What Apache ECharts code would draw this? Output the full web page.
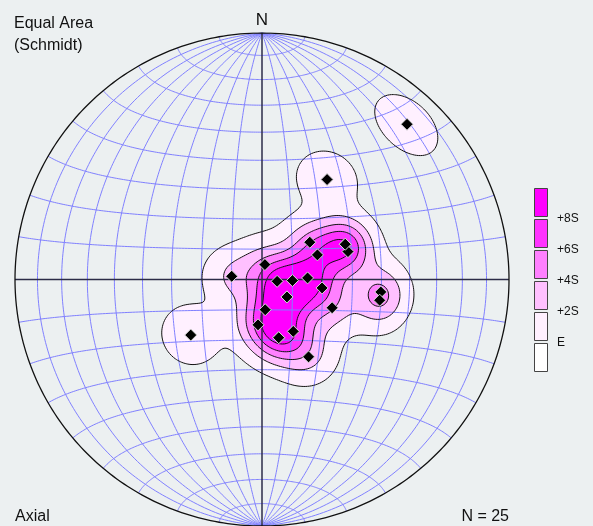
<!DOCTYPE html>
<html>
<head>
<meta charset="utf-8">
<script src="https://cdn.jsdelivr.net/npm/echarts@6/dist/echarts.min.js"></script>
<style>
html, body { margin: 0; padding: 0; background: #ecf0f1; }
#stereonet { width: 593px; height: 526px; }
</style>
</head>
<body>
<div id="stereonet"></div>
<script>
// axial data, lower hemisphere, degrees (last three hide under other diamonds)
const trend  = [43, 33, 52, 67, 72, 66, 11, 276, 97, 92, 88, 125, 98, 112, 96, 100, 174, 185, 164, 149, 149, 232, 67, 125, 164];
const plunge = [15, 50, 70, 60, 60, 70, 85, 80, 85, 80, 75, 80, 70, 65, 50, 50, 80, 75, 70, 70, 60, 60, 60, 80, 70];

const levelNames  = ['E', '+2S', '+4S', '+6S', '+8S'];
const levelSigma  = [0, 2, 4, 6, 8];
const levelColors = ['#fff0ff', '#ffc0ff', '#ff80ff', '#ff33ff', '#ff00ff'];

const rad = Math.PI / 180;

// Schmidt (equal area) projection of a unit vector [east, north, down]
function project(v) {
  const s = 1 / Math.sqrt(1 + v[2]);
  return [v[0] * s, v[1] * s];
}
function lineVec(tr, pl) {
  return [Math.cos(pl * rad) * Math.sin(tr * rad), Math.cos(pl * rad) * Math.cos(tr * rad), Math.sin(pl * rad)];
}

// ---- net: great circles through N/S and small circles about N-S axis
const netLines = [];
for (let dip = 10; dip < 180; dip += 10) {
  if (dip === 90) continue;
  const pts = [];
  for (let t = 0; t <= 180; t += 1) {
    pts.push(project([Math.sin(t * rad) * Math.cos(dip * rad), Math.cos(t * rad), Math.sin(t * rad) * Math.sin(dip * rad)]));
  }
  netLines.push({ coords: pts });
}
for (let lat = -80; lat <= 80; lat += 10) {
  if (lat === 0) continue;
  const pts = [];
  for (let p = 0; p <= 180; p += 1) {
    pts.push(project([Math.cos(lat * rad) * Math.cos(p * rad), Math.sin(lat * rad), Math.cos(lat * rad) * Math.sin(p * rad)]));
  }
  netLines.push({ coords: pts });
}
const primitive = [];
for (let a = 0; a <= 360; a += 1) primitive.push([Math.cos(a * rad), Math.sin(a * rad)]);

// ---- density (exponential kamb kernel, axial)
const vecs = trend.map((t, i) => lineVec(t, plunge[i]));
const nPts = vecs.length;
const K = 90;
const E = nPts / K;
const S = Math.sqrt(nPts * (1 / (2 * K) - 1 / (K * K)));
const levels = levelSigma.map(m => E + m * S);

const G = 240;
const dens = new Float64Array((G + 1) * (G + 1));
for (let j = 0; j <= G; j++) {
  for (let i = 0; i <= G; i++) {
    const x = -1 + 2 * i / G, y = -1 + 2 * j / G;
    const r2 = x * x + y * y;
    let sum = 0;
    if (r2 < 1) {
      const d = 1 - r2, s = Math.sqrt(1 + d);
      const e = x * s, n = y * s;
      for (const v of vecs) {
        const c = Math.abs(e * v[0] + n * v[1] + d * v[2]);
        sum += Math.exp(K * (c - 1));
      }
    }
    dens[j * (G + 1) + i] = sum;
  }
}
const V = (i, j) => dens[j * (G + 1) + i];

function contourLoops(L) {
  const pt = {}, adj = {};
  function edge(key, i1, j1, i2, j2) {
    if (!(key in pt)) {
      const v1 = V(i1, j1), v2 = V(i2, j2);
      const t = (L - v1) / (v2 - v1);
      const x1 = -1 + 2 * i1 / G, y1 = -1 + 2 * j1 / G;
      const x2 = -1 + 2 * i2 / G, y2 = -1 + 2 * j2 / G;
      pt[key] = [x1 + t * (x2 - x1), y1 + t * (y2 - y1)];
    }
    return key;
  }
  function link(a, b) {
    (adj[a] = adj[a] || []).push(b);
    (adj[b] = adj[b] || []).push(a);
  }
  for (let j = 0; j < G; j++) {
    for (let i = 0; i < G; i++) {
      const va = V(i, j), vb = V(i + 1, j), vc = V(i + 1, j + 1), vd = V(i, j + 1);
      const a = va >= L, b = vb >= L, c = vc >= L, d = vd >= L;
      const code = (a ? 1 : 0) | (b ? 2 : 0) | (c ? 4 : 0) | (d ? 8 : 0);
      if (code === 0 || code === 15) continue;
      const eB = () => edge('h' + i + ',' + j, i, j, i + 1, j);
      const eR = () => edge('v' + (i + 1) + ',' + j, i + 1, j, i + 1, j + 1);
      const eT = () => edge('h' + i + ',' + (j + 1), i, j + 1, i + 1, j + 1);
      const eL = () => edge('v' + i + ',' + j, i, j, i, j + 1);
      if (code === 5 || code === 10) {
        const mid = (va + vb + vc + vd) / 4 >= L;
        if ((code === 5) === mid) { link(eB(), eR()); link(eT(), eL()); }
        else { link(eL(), eB()); link(eR(), eT()); }
        continue;
      }
      const cross = [];
      if (a !== b) cross.push(eB());
      if (b !== c) cross.push(eR());
      if (d !== c) cross.push(eT());
      if (a !== d) cross.push(eL());
      link(cross[0], cross[1]);
    }
  }
  const seen = new Set(), loops = [];
  for (const k in adj) {
    if (seen.has(k)) continue;
    const loop = [];
    let prev = null, cur = k;
    while (cur && !seen.has(cur)) {
      seen.add(cur);
      loop.push(pt[cur]);
      const nb = adj[cur];
      let next = null;
      for (const q of nb) if (q !== prev && !seen.has(q)) { next = q; break; }
      prev = cur; cur = next;
    }
    if (loop.length > 2) loops.push(loop);
  }
  return loops;
}

const contours = [];
levels.forEach((L, li) => {
  contourLoops(L).forEach(loop => {
    let cx = 0, cy = 0;
    loop.forEach(p => { cx += p[0]; cy += p[1]; });
    contours.push({ level: li, pts: loop, c: [cx / loop.length, cy / loop.length] });
  });
});
const contourData = contours.map((c, i) => [c.c[0], c.c[1], c.level, i]);

const pointData = vecs.map(project);

// ---- legend (boxes top to bottom, highest level first)
const legendColors = levelColors.slice().reverse().concat(['#ffffff']);
const legendGraphic = [];
legendColors.forEach((col, i) => {
  legendGraphic.push({
    type: 'rect', shape: { x: 534.5, y: 188.5 + i * 31, width: 13, height: 28 },
    style: { fill: col, stroke: '#444', lineWidth: 1 }
  });
});
levelNames.slice().reverse().forEach((name, i) => {
  legendGraphic.push({
    type: 'text', x: 557, y: 218.5 + i * 31,
    style: { text: name, font: '12px "Liberation Sans", Arial, sans-serif', fill: '#111', textAlign: 'left', textVerticalAlign: 'middle' }
  });
});

const chart = echarts.init(document.getElementById('stereonet'));
const option = {
  backgroundColor: '#ecf0f1',
  animation: false,
  grid: { left: 15, top: 33, width: 494, height: 494 },
  xAxis: { type: 'value', min: -1, max: 1, show: false },
  yAxis: { type: 'value', min: -1, max: 1, show: false },
  graphic: [
    { type: 'text', x: 14, y: 13,
      style: { text: 'Equal Area\n(Schmidt)', font: '16px "Liberation Sans", Arial, sans-serif', fill: '#111', lineHeight: 22 } },
    { type: 'text', x: 262, y: 20,
      style: { text: 'N', font: '17px "Liberation Sans", Arial, sans-serif', fill: '#111', textAlign: 'center', textVerticalAlign: 'middle' } },
    { type: 'text', x: 15, y: 517,
      style: { text: 'Axial', font: '16px "Liberation Sans", Arial, sans-serif', fill: '#111', textAlign: 'left', textVerticalAlign: 'middle' } },
    { type: 'text', x: 509, y: 517,
      style: { text: 'N = ' + nPts, font: '16px "Liberation Sans", Arial, sans-serif', fill: '#111', textAlign: 'right', textVerticalAlign: 'middle' } }
  ].concat(legendGraphic),
  series: [
    {
      type: 'custom', coordinateSystem: 'cartesian2d', z: 1, silent: true,
      encode: { x: 0, y: 1 },
      data: contourData,
      renderItem: (params, api) => {
        const c = contours[params.dataIndex];
        return {
          type: 'polygon', z2: c.level,
          shape: { points: c.pts.map(p => api.coord(p)) },
          style: { fill: levelColors[c.level], stroke: null }
        };
      }
    },
    {
      type: 'lines', coordinateSystem: 'cartesian2d', polyline: true, z: 2, silent: true,
      lineStyle: { color: '#8080ff', width: 1, opacity: 1 },
      data: netLines
    },
    {
      type: 'custom', coordinateSystem: 'cartesian2d', z: 3, silent: true,
      encode: { x: 0, y: 1 },
      data: contourData,
      renderItem: (params, api) => {
        const c = contours[params.dataIndex];
        return {
          type: 'polygon',
          shape: { points: c.pts.map(p => api.coord(p)) },
          style: { fill: null, stroke: '#111', lineWidth: 1 }
        };
      }
    },
    {
      type: 'lines', coordinateSystem: 'cartesian2d', polyline: true, z: 4, silent: true,
      lineStyle: { color: '#2c2c48', width: 1.5, opacity: 1 },
      data: [{ coords: [[-1, 0], [1, 0]] }, { coords: [[0, -1], [0, 1]] }]
    },
    {
      type: 'lines', coordinateSystem: 'cartesian2d', polyline: true, z: 4, silent: true,
      lineStyle: { color: '#111', width: 1.3, opacity: 1 },
      data: [{ coords: primitive }]
    },
    {
      type: 'scatter', z: 5, silent: true,
      symbol: 'diamond', symbolSize: 12,
      itemStyle: { color: '#000', borderColor: '#d8d8d8', borderWidth: 1, opacity: 1 },
      data: pointData
    }
  ]
};
chart.setOption(option);
</script>
</body>
</html>
